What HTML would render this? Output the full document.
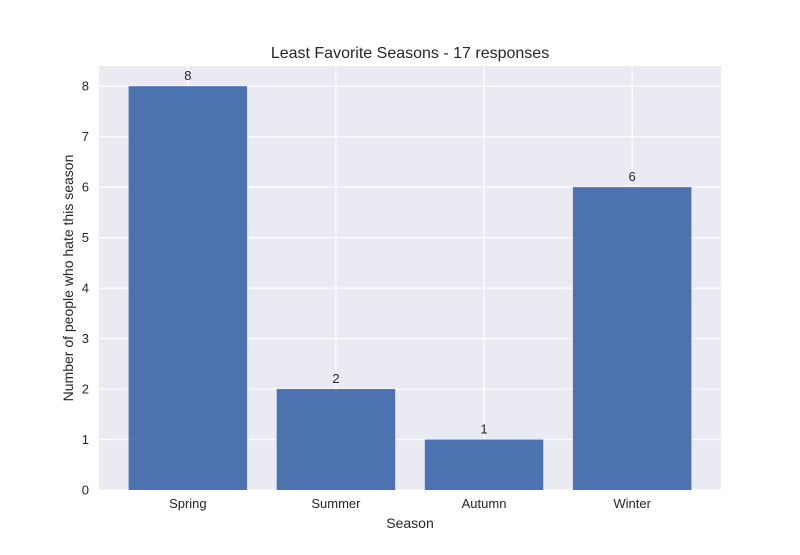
<!DOCTYPE html>
<html><head><meta charset="utf-8"><style>
body{margin:0;background:#fff;}
svg text{font-family:"Liberation Sans","DejaVu Sans",sans-serif;fill:#262626;}
</style></head><body>
<svg id="chart" width="800" height="550">
<rect x="0" y="0" width="800" height="550" fill="#fff"/>
<rect x="99" y="66" width="622" height="424" fill="#eaeaf2"/>
<g id="grid"></g>
<g id="bars"></g>
<g id="labels"></g>
<text x="410" y="58" font-size="16" text-anchor="middle">Least Favorite Seasons - 17 responses</text>
<text x="410" y="528" font-size="14" text-anchor="middle">Season</text>
<text x="0" y="0" font-size="14" text-anchor="middle" transform="translate(73,278) rotate(-90)">Number of people who hate this season</text>
</svg>
<script>
const categories = ["Spring","Summer","Autumn","Winter"];
const values = [8,2,1,6];
const yTicks = [0,1,2,3,4,5,6,7,8];
const NS="http://www.w3.org/2000/svg";
const plotL=99, plotR=721, plotT=66, plotB=490;
const xMin=-0.6, xMax=categories.length-0.4, yMin=0, yMax=8.4;
function xs(v){return plotL+(v-xMin)/(xMax-xMin)*(plotR-plotL);}
function ys(v){return plotB-(v-yMin)/(yMax-yMin)*(plotB-plotT);}
function mk(tag,attrs,parent){const e=document.createElementNS(NS,tag);for(const k in attrs)e.setAttribute(k,attrs[k]);parent.appendChild(e);return e;}
const grid=document.getElementById('grid'),bars=document.getElementById('bars'),labels=document.getElementById('labels');
yTicks.forEach(t=>{
  const l=mk('line',{x1:plotL,x2:plotR,y1:ys(t),y2:ys(t),stroke:'#fff','stroke-width':1.2},grid);
  
  
  const tx=mk('text',{x:plotL-10,y:ys(t)+4.5,'font-size':13,'text-anchor':'end'},labels);
  tx.textContent=t;
  
  
});
categories.forEach((c,i)=>{
  const l=mk('line',{x1:xs(i),x2:xs(i),y1:plotT,y2:plotB,stroke:'#fff','stroke-width':1.2},grid);
  
  
  const w=(xs(0.4)-xs(-0.4));
  const r=mk('rect',{x:xs(i)-w/2,y:ys(values[i]),width:w,height:ys(0)-ys(values[i]),fill:'#4c72b0'},bars);
  
  
  const v=mk('text',{x:xs(i),y:ys(values[i])-6,'font-size':13,'text-anchor':'middle'},labels);
  v.textContent=values[i];
  
  
  const tx=mk('text',{x:xs(i),y:plotB+18,'font-size':13,'text-anchor':'middle'},labels);
  tx.textContent=c;
  
  
});
</script>
</body></html>
